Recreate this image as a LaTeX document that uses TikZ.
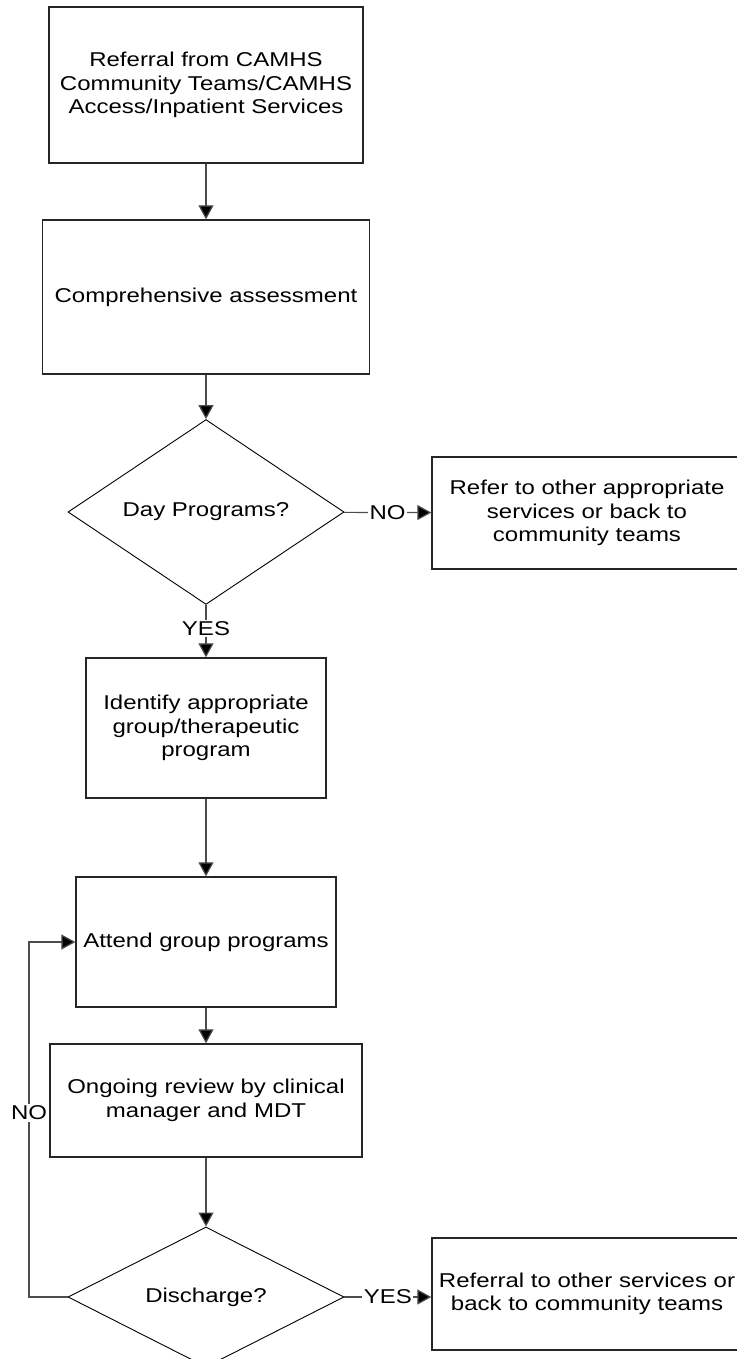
\documentclass[tikz,border=0pt]{standalone}
\usepackage{fontspec}
\setmainfont[FakeStretch=1.2]{Liberation Sans}
\usetikzlibrary{arrows.meta,shapes.geometric}
\begin{document}
\begin{tikzpicture}[x=1pt,y=-1pt,
  txt/.style={font=\fontsize{20}{23.5}\selectfont},
  box/.style={txt,draw=black!85,line width=1.3pt,rectangle,align=center,inner sep=0pt},
  decision/.style={txt,draw=black,line width=0.9pt,diamond,inner sep=0pt,
    minimum width=276pt,minimum height=140pt},
  flow/.style={draw=black!70,line width=1.2pt,-{Triangle[length=14pt,width=15pt,fill=black]}},
  lbl/.style={txt,fill=white,inner sep=1.5pt}]
\useasboundingbox (0,0) rectangle (736,1359);

% process steps
\node[box,minimum width=314pt,minimum height=156pt] (refer) at (206,85)
  {Referral from CAMHS\\Community Teams/CAMHS\\Access/Inpatient Services};
\node[box,minimum width=327pt,minimum height=154pt] (assess) at (206,297)
  {Comprehensive assessment};
\node[decision] (day) at (206,512) {Day Programs?};
\node[box,minimum width=310pt,minimum height=112pt] (other) at (587,513)
  {Refer to other appropriate\\services or back to\\community teams};
\node[box,minimum width=240pt,minimum height=140pt] (identify) at (206,728)
  {Identify appropriate\\group/therapeutic\\program};
\node[box,minimum width=260pt,minimum height=130pt] (attend) at (206,942)
  {Attend group programs};
\node[box,minimum width=312pt,minimum height=113pt] (review) at (206,1100.5)
  {Ongoing review by clinical\\manager and MDT};
\node[decision] (discharge) at (206,1297) {Discharge?};
\node[box,minimum width=310pt,minimum height=112pt] (exit) at (587,1294)
  {Referral to other services or\\back to community teams};

% main flow
\draw[flow] (refer) -- (assess);
\draw[flow] (assess) -- (day);
\draw[flow] (day) -- node[lbl,pos=0.45] (yes1) {YES} (identify);
\draw[flow] (day) -- node[lbl,pos=0.5] (no1) {NO} (other);
\draw[flow] (identify) -- (attend);
\draw[flow] (attend) -- (review);
\draw[flow] (review) -- (discharge);
\draw[flow] (discharge.east) -- node[lbl,pos=0.5] (yes2) {YES} (discharge.east -| exit.west);

% loop back when not discharged
\coordinate (loop) at (29,1297);
\draw[flow] (discharge.west) -- (loop) |- (attend.west);
\node[lbl] (no2) at (29,1113) {NO};
\end{tikzpicture}
\end{document}
